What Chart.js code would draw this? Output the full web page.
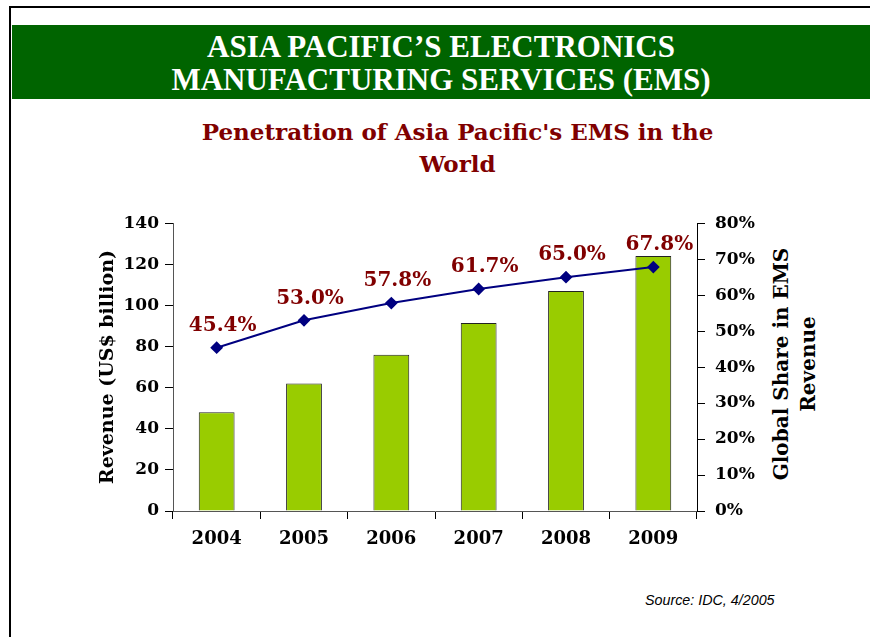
<!DOCTYPE html>
<html><head><meta charset="utf-8">
<script src="https://cdn.jsdelivr.net/npm/chart.js@4"></script>
<style>
html,body{margin:0;padding:0;background:#fff;width:870px;height:637px;overflow:hidden;position:relative;font-family:"DejaVu Serif",serif}
#frameT{position:absolute;left:10px;top:6px;width:860px;height:2px;background:#000}
#frameL{position:absolute;left:9px;top:6px;width:2px;height:631px;background:#000}
#banner{position:absolute;left:12px;top:25px;width:858px;height:74px;background:#006400;color:#fff;text-align:center;font-family:"Liberation Serif",serif;font-weight:bold;font-size:31px;line-height:33px;padding-top:5px;box-sizing:border-box}
#title{position:absolute;left:90px;top:116px;width:735px;text-align:center;color:#800000;font-weight:bold;font-size:23px;line-height:32px}
#rtitle{position:absolute;left:795px;top:364px;width:300px;transform:translate(-50%,-50%) rotate(-90deg);text-align:center;font-weight:bold;font-size:20px;line-height:27px;color:#000}
#source{position:absolute;left:645px;top:592px;font-family:"Liberation Sans",sans-serif;font-style:italic;font-size:14.3px;color:#000}
#wrap{position:absolute;left:90px;top:203px;width:740px;height:360px}
</style></head>
<body>
<div id="frameT"></div><div id="frameL"></div>
<div id="banner">ASIA PACIFIC’S ELECTRONICS<br>MANUFACTURING SERVICES (EMS)</div>
<div id="title">Penetration of Asia Pacific's EMS in the<br>World</div>
<div id="rtitle">Global Share in EMS<br>Revenue</div>
<div id="source">Source: IDC, 4/2005</div>
<div id="wrap"><canvas id="c" width="740" height="360"></canvas></div>
<script>
const categories = ["2004","2005","2006","2007","2008","2009"];
const revenue = [48, 62, 76, 91.5, 107, 124];
const share = [45.4, 53.0, 57.8, 61.7, 65.0, 67.8];
const shareLabels = ["45.4%","53.0%","57.8%","61.7%","65.0%","67.8%"];

const labelPlugin = {
  id:'lbl',
  afterDatasetsDraw(chart){
    const meta = chart.getDatasetMeta(1);
    const ctx = chart.ctx;
    ctx.save();
    ctx.font = 'bold 20px "DejaVu Serif"';
    ctx.fillStyle = '#800000';
    ctx.textAlign = 'center';
    ctx.textBaseline = 'bottom';
    meta.data.forEach((p,i)=>{ ctx.fillText(shareLabels[i], p.x + 6, p.y - 12); });
    ctx.restore();
  }
};
const tickFont = {family:'"DejaVu Serif"', weight:'bold', size:17};
new Chart(document.getElementById('c'), {
  data:{
    labels:categories,
    datasets:[
      {type:'bar', data:revenue, backgroundColor:'#99CC00', borderColor:'#222', borderWidth:1, barPercentage:0.41, categoryPercentage:1, yAxisID:'y', order:1},
      {type:'line', data:share, borderColor:'#000080', backgroundColor:'#000080', borderWidth:2, pointStyle:'rectRot', pointRadius:5, pointBackgroundColor:'#000080', yAxisID:'y1', order:0}
    ]
  },
  options:{
    responsive:false, animation:false, devicePixelRatio:1,
    layout:{padding:{top:16,left:0,right:0,bottom:0}},
    plugins:{legend:{display:false}, tooltip:{enabled:false}},
    scales:{
      x:{
        grid:{display:true, drawOnChartArea:false, offset:true, color:'#000', tickLength:8},
        border:{display:true,color:'#555',width:1},
        ticks:{font:{family:'"DejaVu Serif"', weight:'bold', size:18},color:'#000',padding:10},
        afterFit(s){ s.height = 52; }
      },
      y:{
        position:'left', min:0, max:140,
        ticks:{stepSize:20, font:tickFont, color:'#000', padding:6},
        grid:{drawOnChartArea:false, color:'#000', tickLength:8},
        border:{display:true,color:'#555',width:1},
        title:{display:true,text:'Revenue (US$ billion)',font:{family:'"DejaVu Serif"',weight:'bold',size:19},color:'#000',padding:{top:7,bottom:0}},
        afterFit(s){ s.width = 83; }
      },
      y1:{
        position:'right', min:0, max:80,
        ticks:{stepSize:10, font:tickFont, color:'#000', padding:10, callback:v=>v+'%'},
        grid:{drawOnChartArea:false, color:'#000', tickLength:8},
        border:{display:true,color:'#000',width:1},
        afterFit(s){ s.width = 133; }
      }
    }
  },
  plugins:[labelPlugin]
});
</script>
</body></html>
